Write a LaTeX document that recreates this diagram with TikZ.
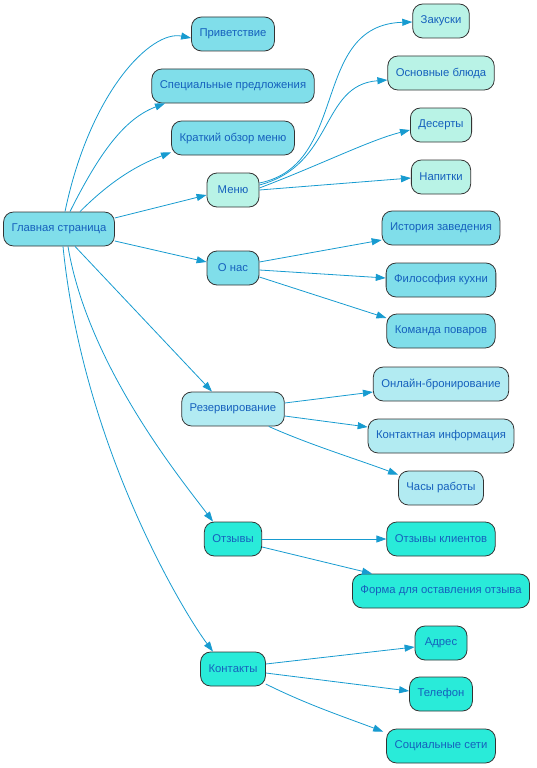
\documentclass[tikz,border=0pt]{standalone}
\usepackage{fontspec}
\setmainfont{Liberation Sans}
\usetikzlibrary{arrows.meta}
\definecolor{edgec}{HTML}{179BD0}
\definecolor{txtc}{HTML}{1560BD}
\definecolor{fa}{HTML}{80DEEA}
\definecolor{fb}{HTML}{B9F3E6}
\definecolor{fc}{HTML}{B2EBF2}
\definecolor{fd}{HTML}{29EBD9}
\tikzset{
  box/.style={draw=black!80, line width=0.8pt, rounded corners=10pt, minimum height=34pt,
    minimum width=52pt, inner xsep=8pt, text=txtc, font=\fontsize{11.3pt}{13pt}\selectfont},
  ba/.style={box, fill=fa},
  bb/.style={box, fill=fb},
  bc/.style={box, fill=fc},
  bd/.style={box, fill=fd},
  conn/.style={draw=edgec, line width=0.8pt, -{Triangle[length=10pt,width=7pt]}}
}
\begin{document}
\begin{tikzpicture}[x=1pt,y=-1pt]
\useasboundingbox (0,0) rectangle (536,768);
\node[ba] (main) at (59,229) {Главная страница};
\node[ba] (priv) at (233,34) {Приветствие};
\node[ba] (spec) at (233,86) {Специальные предложения};
\node[ba] (krat) at (233,138) {Краткий обзор меню};
\node[bb] (menu) at (233,190) {Меню};
\node[ba] (onas) at (233,268) {О нас};
\node[bc] (rez) at (233,409) {Резервирование};
\node[bd] (otz) at (233,539) {Отзывы};
\node[bd] (kont) at (233,669) {Контакты};
\node[bb] (zak) at (441,21) {Закуски};
\node[bb] (osn) at (441,73) {Основные блюда};
\node[bb] (des) at (441,125) {Десерты};
\node[bb] (nap) at (441,177) {Напитки};
\node[ba] (ist) at (441,228) {История заведения};
\node[ba] (fil) at (441,280) {Философия кухни};
\node[ba] (kom) at (441,331) {Команда поваров};
\node[bc] (onl) at (441,384) {Онлайн-бронирование};
\node[bc] (kinf) at (441,436) {Контактная информация};
\node[bc] (chas) at (441,488) {Часы работы};
\node[bd] (otzk) at (441,539) {Отзывы клиентов};
\node[bd] (form) at (441,591) {Форма для оставления отзыва};
\node[bd] (adr) at (441,643) {Адрес};
\node[bd] (tel) at (441,694) {Телефон};
\node[bd] (soc) at (441,746) {Социальные сети};

% from main
\draw[conn] ([xshift=6pt]main.north) .. controls +(25,-120) and +(-40,-8) .. ([yshift=-4pt]priv.west);
\draw[conn] ([xshift=11pt]main.north) .. controls +(30,-60) and +(-40,15) .. ([xshift=-68pt]spec.south);
\draw[conn] ([xshift=21pt]main.north) .. controls +(25,-25) and +(-40,15) .. ([xshift=-62pt,yshift=3pt]krat.south);
\draw[conn] ([yshift=11pt]main.east) -- ([yshift=-5pt]menu.west);
\draw[conn] ([yshift=-12pt]main.east) -- ([yshift=6pt]onas.west);
\draw[conn] ([xshift=16pt]main.south) -- ([xshift=-21pt]rez.north);
\draw[conn] ([xshift=9pt]main.south) .. controls +(20,120) and +(-30,-40) .. ([xshift=-20pt]otz.north);
\draw[conn] ([xshift=4pt]main.south) .. controls +(20,200) and +(-30,-40) .. ([xshift=-20pt]kont.north);

% menu
\draw[conn] ([yshift=7pt]menu.east) .. controls (350,165) and (310,25) .. ([yshift=-1pt]zak.west);
\draw[conn] ([yshift=5pt]menu.east) .. controls (335,165) and (320,85) .. ([yshift=-7pt]osn.west);
\draw[conn] ([yshift=2pt]menu.east) .. controls (320,165) and (370,140) .. ([yshift=-5pt]des.west);
\draw[conn] (menu.east) -- ([yshift=-1pt]nap.west);

% o nas
\draw[conn] ([yshift=6pt]onas.east) -- ([yshift=-12pt]ist.west);
\draw[conn] ([yshift=-2pt]onas.east) -- ([yshift=2pt]fil.west);
\draw[conn] ([yshift=-9pt]onas.east) -- ([yshift=13pt]kom.west);

% rez
\draw[conn] ([yshift=6pt]rez.east) -- ([yshift=-8pt]onl.west);
\draw[conn] ([yshift=-7pt]rez.east) -- ([yshift=9pt]kinf.west);
\draw[conn] ([xshift=-16pt]rez.south east) .. controls +(40,18) and +(-40,-15) .. ([yshift=-4pt]chas.north west);

% otz
\draw[conn] (otz.east) -- (otzk.west);
\draw[conn] ([yshift=-8pt]otz.east) -- ([xshift=20pt]form.north west);

% kont
\draw[conn] ([yshift=5pt]kont.east) -- ([yshift=-4pt]adr.west);
\draw[conn] ([yshift=-4pt]kont.east) -- ([yshift=3pt]tel.west);
\draw[conn] ([yshift=-15pt]kont.east) .. controls +(40,20) and +(-40,-15) .. ([xshift=-3pt,yshift=-3pt]soc.north west);
\end{tikzpicture}
\end{document}
